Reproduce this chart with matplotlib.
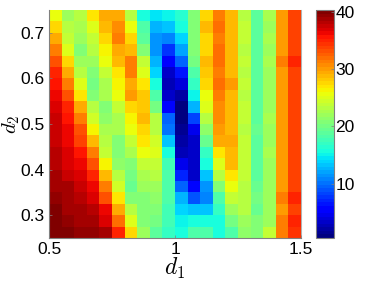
import numpy as np
import matplotlib
matplotlib.use('Agg')
import matplotlib.pyplot as plt

plt.rcParams['font.family'] = ['Liberation Sans', 'DejaVu Sans']
plt.rcParams['mathtext.fontset'] = 'cm'

# rows go from the top of the picture (d2 = 0.75) to the bottom (d2 = 0.25)
row_00 = [25.5, 22, 23, 27, 29.5, 29.5, 23.5, 16, 14.5, 15, 16.5, 20.5, 27.5, 31, 29, 23.5, 19, 22.5, 30, 34]
row_01 = [27.5, 23, 22.5, 25, 28.5, 30.5, 25.5, 18, 12.5, 13.5, 15.5, 20.5, 28.5, 32, 29, 24, 19, 22, 30, 34]
row_02 = [29.5, 24, 22, 24, 27.5, 31, 27.5, 19, 11.5, 10.5, 14, 20.5, 27.5, 31, 29, 24, 19, 22.5, 30, 34]
row_03 = [31, 25, 21, 23, 26.5, 29.5, 29, 21, 11.5, 7.5, 12, 20.5, 27.5, 32, 29, 23.5, 19, 22, 30, 34]
row_04 = [33, 27.5, 22, 22, 25.5, 29, 31, 24, 12.5, 5, 9.5, 20, 28.5, 32, 29, 24, 19, 22.5, 31, 35]
row_05 = [35, 29.5, 23.5, 21, 24, 27, 31, 25, 14, 3.5, 6.5, 18.5, 28, 31, 29, 23, 19, 22, 30, 34]
row_06 = [35.5, 31, 25, 20, 22.5, 26, 29.5, 27, 15.5, 2.5, 4, 17, 27.5, 32, 30, 24, 19, 22, 30, 34]
row_07 = [36.5, 33, 27, 21, 22.5, 25.5, 30, 28, 18, 3, 2, 15, 25.5, 31, 29, 23.5, 19, 22, 30, 34]
row_08 = [37, 35, 29.5, 23.5, 21, 24, 27.5, 28, 20, 6, 1, 12.5, 25, 30.5, 29, 24, 19, 22, 30, 34]
row_09 = [37.5, 35.5, 31, 24.5, 21.5, 22.5, 26, 29, 23, 9.5, 1, 8.5, 23.5, 30.5, 29, 24, 19, 22.5, 30, 34]
row_10 = [37.5, 36, 33, 26.5, 22.5, 22.5, 25.5, 27.5, 23.5, 10, 1.5, 4.5, 21.5, 30, 29, 23.5, 19.5, 22, 30, 34]
row_11 = [37.5, 36.5, 34, 29, 23, 21, 24, 27, 24.5, 13, 2, 3, 19.5, 29.5, 29.5, 24, 19, 22, 30, 34]
row_12 = [38, 37, 35.5, 31, 24, 20.5, 22.5, 25.5, 25, 16, 2.5, 3, 17, 27, 29, 24, 19, 22.5, 30, 34]
row_13 = [38, 37, 36, 33, 26.5, 21.5, 21, 24, 24, 17.5, 4.5, 3, 15.5, 25, 28.5, 24, 19, 22, 30, 34]
row_14 = [38.5, 37.5, 37, 35, 29, 23, 20, 22.5, 23, 18, 7, 3.5, 13, 23, 27, 24, 19, 22, 30, 34]
row_15 = [39, 38.5, 37.5, 36, 31, 24.5, 19.5, 22, 22, 18.5, 9.5, 5.5, 11.5, 20.5, 25.5, 23, 19.5, 22, 30, 34]
row_16 = [39.5, 38.5, 38, 37, 33, 27, 20.5, 21, 21.5, 18, 12.5, 9, 11, 18, 24, 23, 20, 22, 31, 35]
row_17 = [40, 39, 38.5, 38, 36, 29.5, 23, 20.5, 20.5, 17.5, 14, 13, 13, 17, 22, 23, 19.5, 22, 30, 34]
row_18 = [40.3, 39.5, 39, 38.5, 37, 32, 25, 21, 20, 17.5, 15, 15.5, 15.5, 16, 20, 22, 20.5, 22, 31, 35]
row_19 = [40.3, 40.3, 39.5, 39.5, 38.5, 35, 27.5, 22, 19, 17, 16, 18, 18, 16, 18, 21.5, 20.5, 24, 31, 34.5]

d1_ticks = [0.5, 1, 1.5]
d1_labels = ['0.5', '1', '1.5']
d2_ticks = [0.3, 0.4, 0.5, 0.6, 0.7]
d2_labels = ['0.3', '0.4', '0.5', '0.6', '0.7']
cbar_ticks = [10, 20, 30, 40]

values = np.array([row_00, row_01, row_02, row_03, row_04, row_05, row_06, row_07, row_08, row_09,
                   row_10, row_11, row_12, row_13, row_14, row_15, row_16, row_17, row_18, row_19])

d1_edges = np.linspace(0.5, 1.5, values.shape[1] + 1)
d2_edges = np.linspace(0.75, 0.25, values.shape[0] + 1)

W, H = 374, 281
fig = plt.figure(figsize=(W / 100, H / 100), dpi=100)
ax = fig.add_axes([49 / W, 1 - 238 / H, 252 / W, 228 / H])
cax = fig.add_axes([316 / W, 1 - 238 / H, 18 / W, 228 / H])

mesh = ax.pcolormesh(d1_edges, d2_edges, values, cmap=plt.get_cmap('jet', 64), vmin=0.5, vmax=40.3)
ax.set_xlim(0.5, 1.5)
ax.set_ylim(0.25, 0.75)
ax.set_xticks(d1_ticks)
ax.set_xticklabels(d1_labels)
ax.set_yticks(d2_ticks)
ax.set_yticklabels(d2_labels)
ax.tick_params(direction='in', length=2, width=0.5, color='#808080', labelsize=12.5, pad=3)
ax.set_xlabel(r'$d_1$', fontsize=17, labelpad=-1)
ax.set_ylabel(r'$d_2$', fontsize=15, labelpad=-1)
ax.spines['top'].set_visible(False)
for side in ['left', 'bottom', 'right']:
    ax.spines[side].set_color('#808080')
    ax.spines[side].set_linewidth(0.8)
ax.spines['right'].set_alpha(0.6)

cbar = fig.colorbar(mesh, cax=cax)
cbar.set_ticks(cbar_ticks)
cax.tick_params(direction='in', length=2, width=0.5, color='#808080', labelsize=12.5, pad=1)
cbar.outline.set_edgecolor('#808080')
cbar.outline.set_linewidth(0.8)

fig.savefig('out.png', dpi=100)
